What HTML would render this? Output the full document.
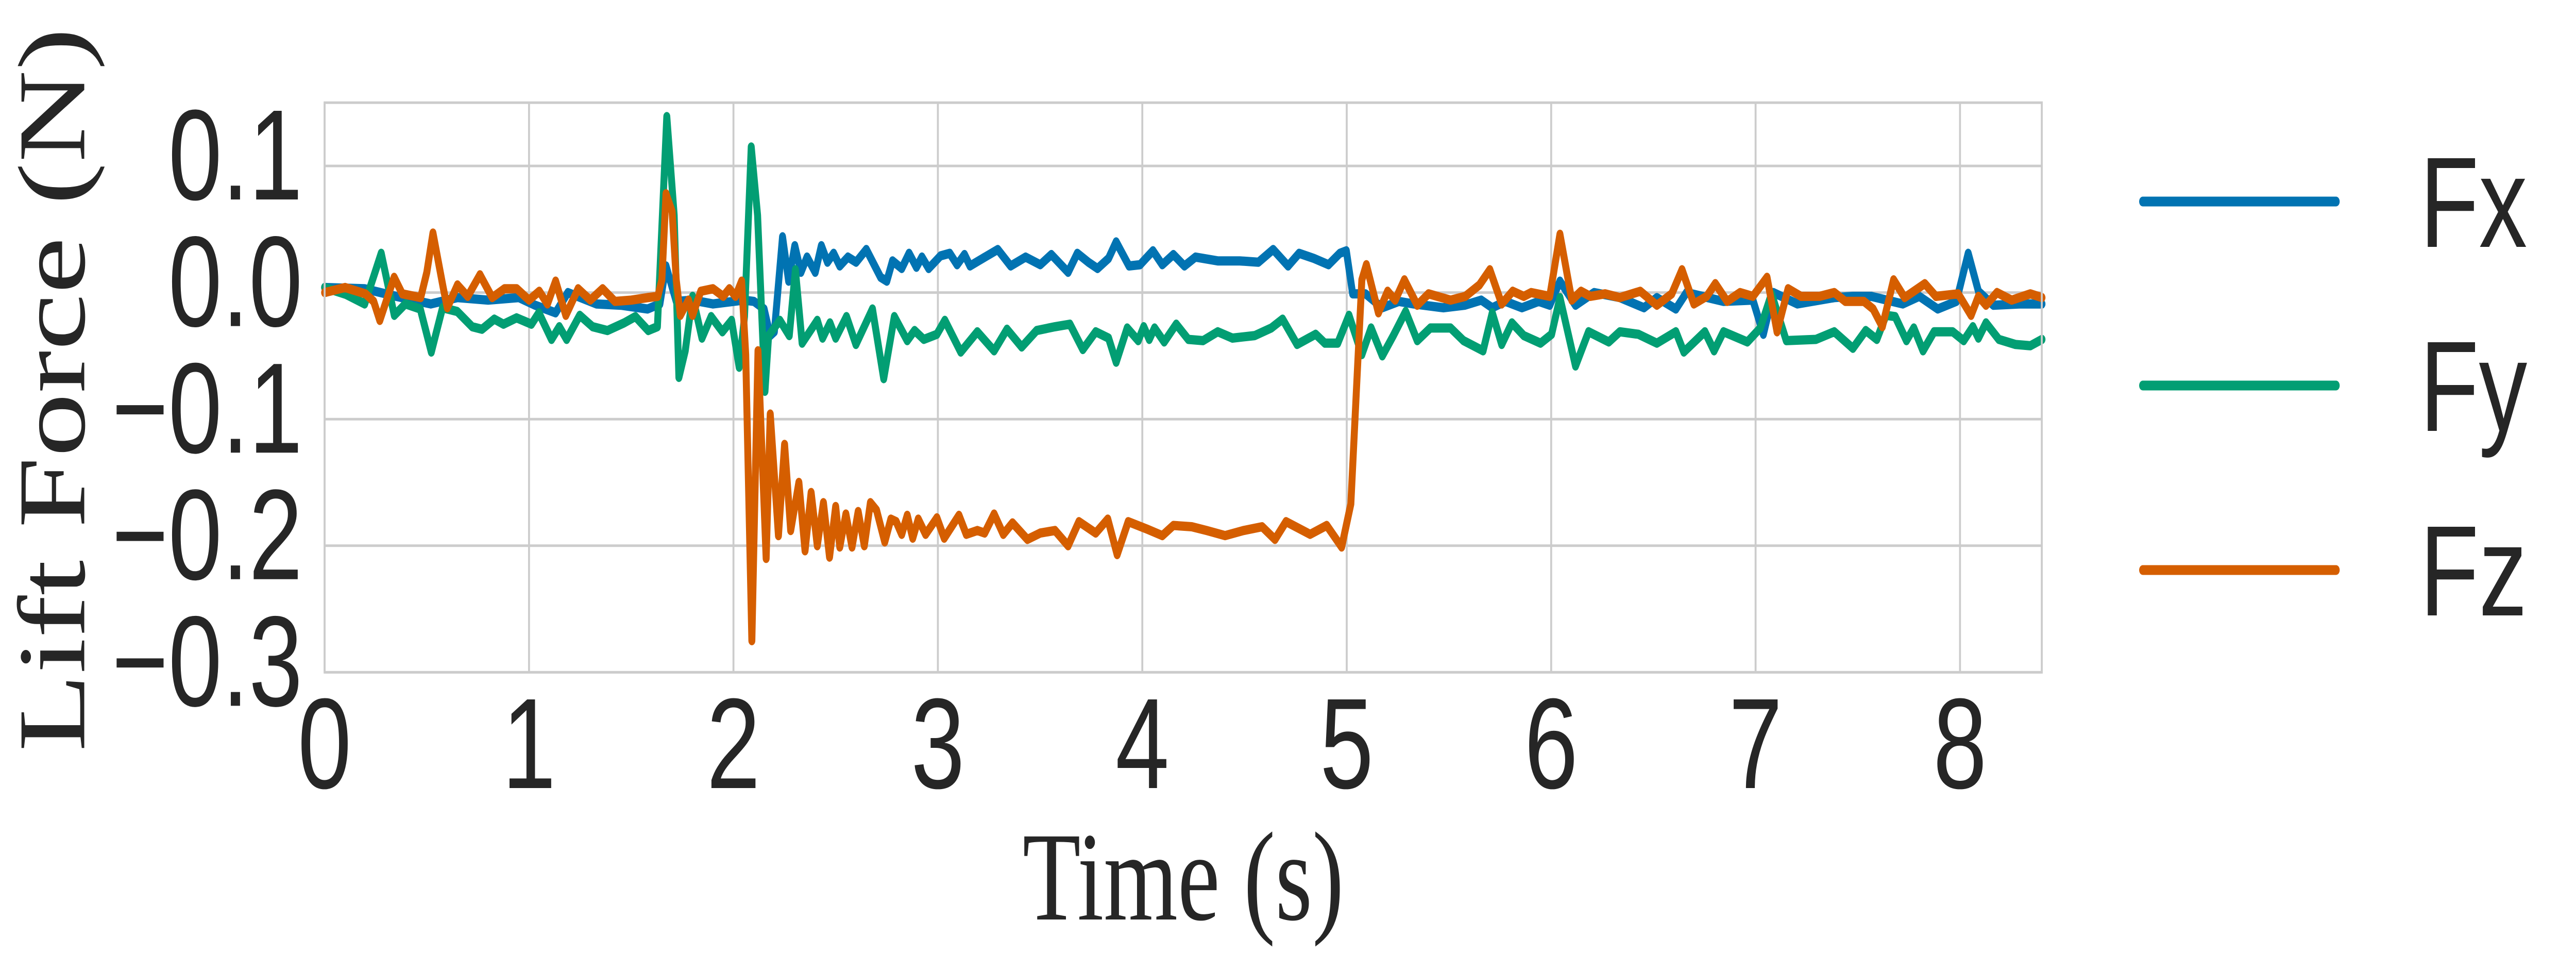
<!DOCTYPE html>
<html><head><meta charset="utf-8">
<style>
html,body{margin:0;padding:0;background:#fff;width:100%;height:100%;overflow:hidden;}
svg{display:block;width:100vw;height:100vh;}
text{fill:#262626;}
</style></head>
<body>
<svg id="chart" viewBox="0 0 6666 1882" preserveAspectRatio="none" xmlns="http://www.w3.org/2000/svg">
<rect x="0" y="0" width="6666" height="1882" fill="#fff"/>
<g id="grid"></g>
<g id="series"></g>
<g id="frame"></g>
<g id="xticks"></g>
<g id="yticks"></g>
<text x="3062" y="1784" text-anchor="middle" font-family="'Liberation Serif', serif" font-size="246">Time (s)</text>
<text transform="translate(218,756) rotate(-90)" text-anchor="middle" font-family="'Liberation Serif', serif" font-size="248">Lift Force (N)</text>
<g id="legend"></g>
</svg>
<script>
const xTicks = [0,1,2,3,4,5,6,7,8];
const yTicks = [0.1,0.0,-0.1,-0.2,-0.3];
const yTickLabels = ["0.1","0.0","\u22120.1","\u22120.2","\u22120.3"];
const seriesNames = ["Fx","Fy","Fz"];
const seriesColors = ["#0173b2","#029e73","#d55e00"];

const fxT = [0,0.196,0.35,0.52,0.65,0.8,0.95,1.03,1.13,1.19,1.33,1.45,1.58,1.64,1.67,1.72,1.8,1.9,2.0,2.05,2.1,2.15,2.18,2.2,2.24,2.27,2.3,2.33,2.36,2.4,2.43,2.46,2.49,2.52,2.56,2.6,2.65,2.72,2.75,2.778,2.823,2.859,2.895,2.922,2.955,3.013,3.058,3.094,3.13,3.157,3.23,3.293,3.356,3.429,3.501,3.555,3.637,3.682,3.736,3.781,3.835,3.872,3.935,3.989,4.052,4.098,4.152,4.206,4.26,4.369,4.477,4.568,4.64,4.713,4.767,4.839,4.911,4.966,4.998,5.029,5.092,5.174,5.255,5.327,5.472,5.577,5.658,5.712,5.776,5.857,5.939,5.993,6.043,6.119,6.21,6.336,6.454,6.517,6.61,6.662,6.843,6.987,7.038,7.087,7.204,7.385,7.476,7.566,7.72,7.801,7.891,7.982,8.04,8.09,8.163,8.289,8.401];
const fxV = [0.004,0.003,-0.003,-0.009,-0.004,-0.006,-0.004,-0.010,-0.016,0.000,-0.009,-0.010,-0.013,-0.009,0.021,-0.007,-0.006,-0.009,-0.007,-0.006,-0.007,-0.013,-0.034,-0.031,0.044,0.009,0.037,0.016,0.028,0.016,0.037,0.024,0.031,0.021,0.028,0.024,0.034,0.012,0.009,0.025,0.019,0.031,0.020,0.028,0.019,0.029,0.031,0.022,0.030,0.021,0.028,0.034,0.021,0.028,0.022,0.030,0.016,0.031,0.024,0.019,0.027,0.040,0.021,0.022,0.033,0.022,0.030,0.021,0.028,0.025,0.025,0.024,0.034,0.021,0.031,0.027,0.022,0.031,0.033,-0.001,-0.001,-0.012,-0.007,-0.009,-0.012,-0.010,-0.006,-0.012,-0.007,-0.012,-0.007,-0.010,0.009,-0.010,0.000,-0.004,-0.012,-0.004,-0.013,0.000,-0.007,-0.006,-0.033,0.000,-0.009,-0.004,-0.003,-0.003,-0.009,-0.003,-0.013,-0.007,0.031,0.001,-0.010,-0.009,-0.009];

const fyT = [0,0.105,0.196,0.277,0.341,0.395,0.468,0.522,0.577,0.649,0.722,0.77,0.83,0.875,0.939,1.012,1.048,1.11,1.148,1.184,1.248,1.311,1.384,1.465,1.52,1.583,1.628,1.674,1.71,1.733,1.764,1.8,1.846,1.891,1.946,1.991,2.028,2.054,2.087,2.118,2.154,2.172,2.227,2.273,2.303,2.336,2.41,2.436,2.472,2.5,2.553,2.599,2.68,2.735,2.787,2.85,2.886,2.931,2.995,3.034,3.112,3.193,3.275,3.338,3.41,3.483,3.573,3.646,3.709,3.772,3.835,3.872,3.926,3.98,4.007,4.034,4.06,4.107,4.166,4.225,4.297,4.369,4.441,4.55,4.631,4.686,4.757,4.848,4.893,4.956,5.011,5.074,5.119,5.174,5.228,5.288,5.345,5.409,5.508,5.571,5.667,5.712,5.758,5.808,5.866,5.948,6.002,6.043,6.119,6.183,6.282,6.336,6.427,6.517,6.61,6.649,6.752,6.797,6.843,6.96,7.023,7.078,7.15,7.295,7.385,7.476,7.539,7.593,7.638,7.683,7.738,7.774,7.819,7.873,7.964,8.018,8.063,8.09,8.127,8.19,8.271,8.344,8.401];
const fyV = [0.004,-0.0015,-0.009,0.031,-0.018,-0.009,-0.013,-0.047,-0.012,-0.015,-0.027,-0.029,-0.021,-0.025,-0.020,-0.025,-0.016,-0.037,-0.027,-0.037,-0.018,-0.027,-0.030,-0.024,-0.019,-0.030,-0.027,0.139,0.061,-0.067,-0.046,-0.003,-0.036,-0.019,-0.031,-0.022,-0.059,-0.019,0.115,0.061,-0.078,-0.034,-0.022,-0.034,0.018,-0.040,-0.022,-0.036,-0.024,-0.036,-0.019,-0.041,-0.013,-0.068,-0.019,-0.038,-0.030,-0.037,-0.033,-0.022,-0.047,-0.031,-0.046,-0.029,-0.043,-0.030,-0.027,-0.025,-0.045,-0.031,-0.036,-0.055,-0.028,-0.038,-0.027,-0.037,-0.028,-0.039,-0.025,-0.037,-0.038,-0.031,-0.036,-0.034,-0.028,-0.021,-0.041,-0.033,-0.040,-0.040,-0.018,-0.049,-0.028,-0.050,-0.034,-0.015,-0.038,-0.028,-0.028,-0.038,-0.046,-0.016,-0.041,-0.024,-0.034,-0.040,-0.033,-0.004,-0.058,-0.031,-0.039,-0.031,-0.033,-0.040,-0.031,-0.047,-0.031,-0.046,-0.031,-0.039,-0.028,-0.001,-0.038,-0.037,-0.031,-0.044,-0.030,-0.037,-0.018,-0.019,-0.038,-0.028,-0.046,-0.031,-0.031,-0.038,-0.027,-0.036,-0.024,-0.037,-0.041,-0.042,-0.037];

const fzT = [0,0.1,0.2,0.24,0.27,0.34,0.38,0.44,0.47,0.5,0.53,0.58,0.6,0.65,0.7,0.76,0.82,0.88,0.94,1.0,1.05,1.09,1.13,1.18,1.24,1.3,1.36,1.42,1.5,1.58,1.63,1.65,1.67,1.7,1.72,1.74,1.78,1.8,1.84,1.9,1.95,1.98,2.01,2.04,2.06,2.09,2.12,2.16,2.18,2.22,2.25,2.28,2.32,2.35,2.38,2.41,2.44,2.47,2.5,2.52,2.55,2.58,2.61,2.64,2.67,2.7,2.74,2.77,2.796,2.823,2.85,2.877,2.904,2.94,2.995,3.031,3.103,3.139,3.193,3.229,3.275,3.32,3.365,3.438,3.501,3.573,3.637,3.69,3.772,3.831,3.877,3.931,4.025,4.098,4.152,4.242,4.315,4.405,4.495,4.586,4.649,4.703,4.821,4.902,4.975,5.02,5.047,5.074,5.096,5.155,5.2,5.237,5.282,5.345,5.4,5.508,5.58,5.649,5.7,5.758,5.812,5.866,5.902,5.993,6.043,6.101,6.146,6.192,6.264,6.336,6.436,6.517,6.59,6.64,6.698,6.761,6.803,6.861,6.924,6.987,7.056,7.105,7.159,7.222,7.313,7.385,7.439,7.53,7.575,7.62,7.675,7.729,7.774,7.828,7.882,7.991,8.054,8.09,8.127,8.181,8.253,8.344,8.401];
const fzV = [0,0.004,-0.001,-0.007,-0.022,0.012,-0.001,-0.003,-0.004,0.016,0.047,0.004,-0.012,0.006,-0.003,0.014,-0.004,0.003,0.003,-0.006,0.001,-0.009,0.009,-0.018,0.003,-0.006,0.003,-0.007,-0.006,-0.004,-0.003,0.010,0.078,0.064,0.010,-0.018,-0.006,-0.018,0.001,0.003,-0.003,0.003,-0.003,0.009,-0.049,-0.275,-0.046,-0.210,-0.096,-0.192,-0.120,-0.188,-0.150,-0.204,-0.158,-0.200,-0.166,-0.209,-0.169,-0.201,-0.175,-0.201,-0.173,-0.200,-0.166,-0.172,-0.197,-0.179,-0.181,-0.191,-0.176,-0.194,-0.179,-0.191,-0.178,-0.194,-0.176,-0.191,-0.188,-0.190,-0.175,-0.191,-0.182,-0.195,-0.190,-0.188,-0.200,-0.181,-0.190,-0.179,-0.207,-0.181,-0.187,-0.192,-0.184,-0.185,-0.188,-0.192,-0.188,-0.185,-0.195,-0.181,-0.191,-0.184,-0.201,-0.167,-0.078,0.010,0.022,-0.016,0.001,-0.006,0.010,-0.010,-0.001,-0.006,-0.003,0.006,0.018,-0.009,0.001,-0.003,0.000,-0.003,0.046,-0.006,0.001,-0.003,-0.001,-0.004,0.001,-0.010,-0.001,0.018,-0.009,-0.003,0.007,-0.007,0.000,-0.003,0.012,-0.031,0.003,-0.003,-0.003,0.000,-0.007,-0.007,-0.013,-0.027,0.010,-0.004,0.001,0.007,-0.003,-0.001,-0.018,-0.003,-0.010,0.000,-0.006,-0.001,-0.004];

const NS = "http://www.w3.org/2000/svg";
const X0 = 840, XPER = 529, XMIN = 0, XMAX = 8.4;
const YZERO = 567.6, YPER = 2456, YMAX = 0.15, YMIN = -0.3;
function sx(t){ return X0 + (t - XMIN) * XPER; }
function sy(v){ return YZERO - v * YPER; }
const L = sx(XMIN), R = sx(XMAX), T = sy(YMAX), B = sy(YMIN);

const grid = document.getElementById('grid');
xTicks.forEach(t => {
  const ln = document.createElementNS(NS,'line');
  
  
  ln.setAttribute('x1', sx(t)); ln.setAttribute('x2', sx(t));
  ln.setAttribute('y1', T); ln.setAttribute('y2', B);
  ln.setAttribute('stroke', '#cccccc'); ln.setAttribute('stroke-width', '5');
  grid.appendChild(ln);
});
yTicks.forEach(v => {
  const ln = document.createElementNS(NS,'line');
  
  
  ln.setAttribute('x1', L); ln.setAttribute('x2', R);
  ln.setAttribute('y1', sy(v)); ln.setAttribute('y2', sy(v));
  ln.setAttribute('stroke', '#cccccc'); ln.setAttribute('stroke-width', '5');
  grid.appendChild(ln);
});

const frame = document.getElementById('frame');
const fr = document.createElementNS(NS,'rect');


fr.setAttribute('x', L); fr.setAttribute('y', T);
fr.setAttribute('width', R - L); fr.setAttribute('height', B - T);
fr.setAttribute('fill', 'none'); fr.setAttribute('stroke', '#cccccc'); fr.setAttribute('stroke-width', '5');
frame.appendChild(fr);

const seriesG = document.getElementById('series');
const allT = [fxT, fyT, fzT], allV = [fxV, fyV, fzV];
const lineNames = ['fx-line','fy-line','fz-line'];
allT.forEach((ts, i) => {
  const pts = ts.map((t, j) => sx(t).toFixed(1) + ',' + sy(allV[i][j]).toFixed(1)).join(' ');
  const pl = document.createElementNS(NS,'polyline');
  
  
  pl.setAttribute('points', pts);
  pl.setAttribute('fill', 'none');
  pl.setAttribute('stroke', seriesColors[i]);
  pl.setAttribute('stroke-width', '18');
  pl.setAttribute('stroke-linejoin', 'round');
  pl.setAttribute('stroke-linecap', 'round');
  seriesG.appendChild(pl);
});

const xtg = document.getElementById('xticks');
xTicks.forEach(t => {
  const tx = document.createElementNS(NS,'text');
  
  
  tx.setAttribute('x', sx(t)); tx.setAttribute('y', 1529);
  tx.setAttribute('text-anchor', 'middle');
  tx.setAttribute('font-family', "'Liberation Sans', sans-serif");
  tx.setAttribute('font-size', '250');
  tx.textContent = String(t);
  xtg.appendChild(tx);
});
const ytg = document.getElementById('yticks');
yTicks.forEach((v, i) => {
  const tx = document.createElementNS(NS,'text');
  
  
  tx.setAttribute('x', 783); tx.setAttribute('y', sy(v) + 65);
  tx.setAttribute('text-anchor', 'end');
  tx.setAttribute('font-family', "'Liberation Sans', sans-serif");
  tx.setAttribute('font-size', '250');
  tx.textContent = yTickLabels[i];
  ytg.appendChild(tx);
});

const lg = document.getElementById('legend');
const legY = [391, 748, 1106];
seriesNames.forEach((n, i) => {
  const ln = document.createElementNS(NS,'line');
  
  
  ln.setAttribute('x1', 5545); ln.setAttribute('x2', 6045);
  ln.setAttribute('y1', legY[i]); ln.setAttribute('y2', legY[i]);
  ln.setAttribute('stroke', seriesColors[i]); ln.setAttribute('stroke-width', '19');
  ln.setAttribute('stroke-linecap', 'round');
  lg.appendChild(ln);
  const tx = document.createElementNS(NS,'text');
  
  
  tx.setAttribute('x', 6262); tx.setAttribute('y', legY[i] + 88);
  tx.setAttribute('font-family', "'Liberation Sans', sans-serif");
  tx.setAttribute('font-size', '250');
  tx.textContent = n;
  lg.appendChild(tx);
});
</script>
</body></html>
